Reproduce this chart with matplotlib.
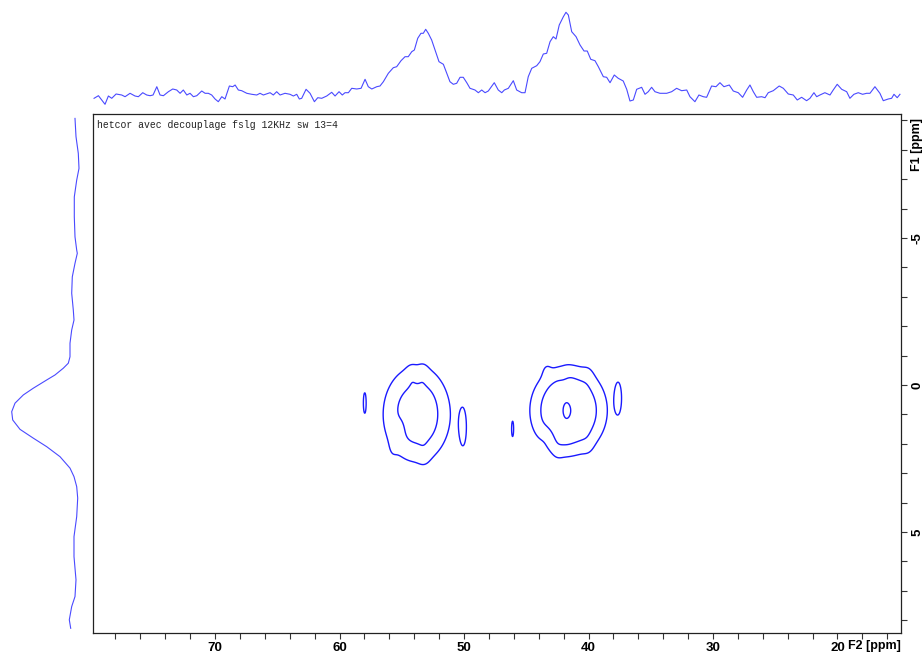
import numpy as np
import matplotlib
matplotlib.use("Agg")
import matplotlib.pyplot as plt
from matplotlib.ticker import MultipleLocator
from matplotlib.transforms import offset_copy

plt.rcParams["axes.unicode_minus"] = False

# F2 projection (top trace), ppm / intensity
top_f2 = [79.72, 79.37, 79.10, 78.84, 78.57, 78.30, 77.95, 77.50, 77.23, 76.83, 76.43, 76.16, 75.81, 75.49,
          75.22, 74.98, 74.68, 74.42, 74.15, 73.75, 73.40, 73.08, 72.81, 72.55, 72.27, 72.01, 71.74, 71.47,
          71.07, 70.80, 70.54, 70.27, 70.00, 69.74, 69.46, 69.20, 68.85, 68.58, 68.39, 68.13, 67.86, 67.45,
          67.05, 66.65, 66.39, 66.12, 65.58, 65.32, 65.05, 64.78, 64.38, 63.98, 63.71, 63.44, 63.23,
          63.04, 62.69, 62.37, 62.02, 61.75, 61.43, 61.03, 60.63, 60.36, 60.04, 59.78, 59.56, 59.29, 59.02,
          58.62, 58.27, 57.95, 57.69, 57.41, 57.01, 56.75, 56.48, 56.08, 55.68, 55.41, 55.06, 54.74, 54.48,
          54.20, 53.99, 53.72, 53.46, 53.27, 53.08, 52.87, 52.60, 52.33, 52.01, 51.66, 51.39, 51.13, 50.86,
          50.59, 50.32, 50.06, 49.78, 49.52, 49.12, 48.85, 48.58, 48.31, 48.05, 47.57, 47.25, 46.97, 46.76,
          46.44, 46.04, 45.77, 45.37, 45.10, 44.84, 44.56, 44.16, 43.90, 43.63, 43.36, 43.09, 42.83, 42.61,
          42.35, 42.02, 41.81, 41.62, 41.35, 41.00, 40.68, 40.36, 40.10, 39.82, 39.48, 39.21, 38.81, 38.54,
          38.27, 37.93, 37.61, 37.21, 36.93, 36.67, 36.40, 36.13, 35.73, 35.46, 35.20, 34.93, 34.66, 34.26,
          33.72, 33.32, 32.92, 32.52, 32.11, 31.85, 31.45, 31.13,
          30.78, 30.51, 30.11, 29.76, 29.44, 29.12, 28.69, 28.37, 27.97, 27.62, 27.29, 27.03, 26.76, 26.49,
          26.09, 25.82, 25.56, 25.16, 24.68, 24.35, 23.95, 23.55, 23.23, 22.88, 22.48, 22.21, 21.89, 21.67,
          21.41, 21.01, 20.60, 20.34, 20.02, 19.66, 19.26, 19.00, 18.68, 18.33, 17.98, 17.66, 17.39, 16.99,
          16.59, 16.32, 15.92, 15.65, 15.46, 15.20, 14.98]
top_int = [-2.3, 0.3, -4.0, -8.3, 0.0, -2.3, 2.0, 1.0, -0.7, 2.7, 0.0, -0.7, 3.3, 1.0,
           0.3, 1.0, 9.3, 1.0, 0.3, 4.3, 7.0, 6.0, 2.7, 6.0, 1.0, 2.7, -0.7, 0.3,
           5.0, 2.7, 2.7, 1.0, -3.0, -5.7, -0.7, -3.0, 10.0, 9.3, 11.0, 6.0, 5.3, 2.7,
           1.7, 1.0, 2.7, 1.0, 3.3, 1.0, 4.3, 1.0, 2.7, 1.7, 0.0, 1.7, -3.0,
           -2.3, 6.7, 2.7, -5.7, -1.7, -2.3, 0.0, 3.7, 0.0, 4.3, 1.0, 3.3, 3.3, 7.7,
           7.0, 7.7, 16.7, 9.3, 7.0, 9.3, 10.0, 14.3, 22.7, 28.3, 29.3, 35.3, 39.3, 39.3,
           44.3, 46.0, 57.7, 62.7, 62.7, 66.7, 62.7, 56.0, 46.0, 34.3, 31.7, 22.7, 14.3, 11.7,
           12.7, 18.7, 18.7, 13.3, 7.7, 6.0, 3.3, 6.0, 3.3, 5.0, 13.3, 6.0, 3.3, 6.0,
           7.7, 15.3, 6.0, 3.3, 3.3, 19.3, 27.7, 30.3, 34.3, 42.0, 42.7, 54.3, 59.3, 57.0,
           71.0, 79.3, 83.7, 81.0, 64.3, 59.3, 51.0, 45.0, 45.0, 36.7, 35.3, 29.3, 19.3, 18.7,
           13.3, 21.0, 17.7, 15.0, 6.7, -5.0, -4.0, 6.7, 8.7, 1.7, 4.3, 8.7, 4.3, 2.7,
           2.7, 4.3, 7.7, 5.3, 6.0, -0.7, -5.7, 1.0,
           -0.7, -1.3, 10.0, 9.3, 13.3, 9.3, 11.0, 5.0, 3.3, -1.3, 6.0, 11.0, 4.3, -1.3,
           -0.7, -1.7, 3.3, 5.3, 10.0, 7.7, 2.0, 1.0, -4.0, -1.3, -4.7, -2.3, 3.3, -0.7,
           1.0, 3.3, 1.0, 6.0, 11.7, 6.7, 4.3, -2.3, 1.7, 3.3, 1.7, 2.7, 2.7, 9.3,
           2.7, -4.7, -3.0, -2.3, 1.7, -1.7, 1.7]

# F1 projection (left trace)
side_f1 = [-9.07, -8.45, -7.88, -7.37, -6.97, -6.40, -5.72, -5.04, -4.59, -4.48, -4.14, -3.68, -3.12,
           -2.55, -2.21, -1.87, -1.42, -0.96, -0.74, -0.57, -0.34, -0.17, 0.11, 0.34, 0.62, 0.91, 1.19,
           1.51, 1.81, 2.10, 2.44, 2.83, 3.12, 3.46, 3.85, 4.48, 5.16, 5.84, 6.63, 7.20, 7.54, 7.99, 8.28]
side_int = [5.0, 4.0, 1.7, 1.0, 3.3, 5.7, 5.7, 5.0, 3.3, 2.7, 5.0, 7.7, 8.3,
            6.7, 6.0, 8.3, 10.0, 10.0, 11.7, 16.7, 25.0, 33.3, 46.7, 56.7, 65.0, 68.3, 67.3,
            60.0, 46.7, 33.3, 20.0, 10.0, 6.0, 3.3, 2.3, 3.3, 6.0, 6.0, 4.0, 5.0, 8.3, 10.7, 9.3]

# 2D signal: centre F2, centre F1, width F2, width F1, height
# (two cross peaks, their lumps, and the small noise islands)
peak_f2 = [53.8, 41.6, 41.8, 57.98, 50.05, 46.1, 37.6,
           54.2, 53.3, 55.8, 53.2, 55.0, 52.9,
           43.4, 40.0, 42.5, 40.0, 43.3, 42.0]
peak_f1 = [1.0, 0.87, 0.88, 0.6, 1.53, 1.51, 0.39,
           -0.35, -0.4, 2.3, 2.4, 1.4, 0.9,
           -0.55, -0.4, 2.25, 2.1, 1.7, -0.3]
peak_wf2 = [2.42, 2.41, 0.35, 0.11, 0.31, 0.08, 0.25,
            0.3, 0.3, 0.3, 0.35, 0.35, 0.6,
            0.3, 0.35, 0.35, 0.35, 0.4, 0.3]
peak_wf1 = [1.45, 1.2, 0.8, 0.35, 0.75, 0.26, 0.5,
            0.25, 0.25, 0.3, 0.3, 0.3, 0.8,
            0.25, 0.3, 0.3, 0.3, 0.25, 0.2]
peak_amp = [1.86, 2.30, 0.15, 0.99, 0.73, 1.06, 0.92,
            0.18, 0.18, 0.12, 0.15, -0.15, 0.1,
            0.2, 0.12, 0.15, 0.12, -0.2, -0.12]
levels = [1.0, 1.5, 2.38]

title = "hetcor avec decouplage fslg 12KHz sw 13=4"

f2 = np.arange(14.9, 80.0, 0.02)
f1 = np.arange(-9.3, 8.5, 0.02)
X, Y = np.meshgrid(f2, f1)
Z = np.zeros_like(X)
for x0, y0, sx, sy, a in zip(peak_f2, peak_f1, peak_wf2, peak_wf1, peak_amp):
    Z += a * np.exp(-(X - x0) ** 2 / (2 * sx ** 2) - (Y - y0) ** 2 / (2 * sy ** 2))

fig = plt.figure(figsize=(9.24, 6.56), dpi=100)
W, H = 924, 656
ax = fig.add_axes([92.7 / W, 23 / H, 808 / W, 519 / H])
ax_top = fig.add_axes([92.7 / W, (H - 110) / H, 808 / W, 110 / H], sharex=ax)
ax_left = fig.add_axes([0, 23 / H, 92 / W, 519 / H], sharey=ax)

ax.contour(X, Y, Z, levels=levels, colors="#1a1aff", linewidths=1.0)
ax.set_xlim(79.83, 14.92)
ax.set_ylim(8.44, -9.22)

tickfont = ["Liberation Sans", "DejaVu Sans"]
ax.xaxis.set_major_locator(MultipleLocator(10))
ax.xaxis.set_minor_locator(MultipleLocator(2))
ax.yaxis.set_major_locator(MultipleLocator(5))
ax.yaxis.set_minor_locator(MultipleLocator(1))
ax.yaxis.tick_right()
ax.tick_params(which="both", direction="out", length=4.5, width=0.8, color="#333333")
ax.tick_params(axis="x", which="major", pad=2)
ax.tick_params(axis="y", which="major", pad=3, labelrotation=90)
for lab in ax.get_xticklabels() + ax.get_yticklabels():
    lab.set_family(tickfont)
    lab.set_fontweight("bold")
    lab.set_fontsize(9.5)
for lab in ax.get_yticklabels():
    lab.set_va("center")
for s in ax.spines.values():
    s.set_linewidth(0.9)
    s.set_color("#222222")

ax.text(1.0, 0.0, "F2 [ppm]", transform=offset_copy(ax.transAxes, fig=fig, x=0, y=-7, units="dots"),
        ha="right", va="top", family=tickfont, fontweight="bold", fontsize=9)
ax.text(1.0, 1.0, "F1 [ppm]", transform=offset_copy(ax.transAxes, fig=fig, x=10, y=-4, units="dots"),
        ha="left", va="top", rotation=90, family=tickfont, fontweight="bold", fontsize=9)
ax.text(0.005, 0.979, title, transform=ax.transAxes, ha="left", va="center",
        family=["Liberation Mono", "DejaVu Sans Mono"], fontsize=7.0, color="#222222")

ax_top.plot(top_f2, top_int, color="#4a4aff", linewidth=0.8)
ax_top.set_ylim(-14, 96)
ax_top.axis("off")

ax_left.plot(side_int, side_f1, color="#4a4aff", linewidth=0.8)
ax_left.set_xlim(80, -12)
ax_left.axis("off")

fig.savefig("out.png", dpi=100)
